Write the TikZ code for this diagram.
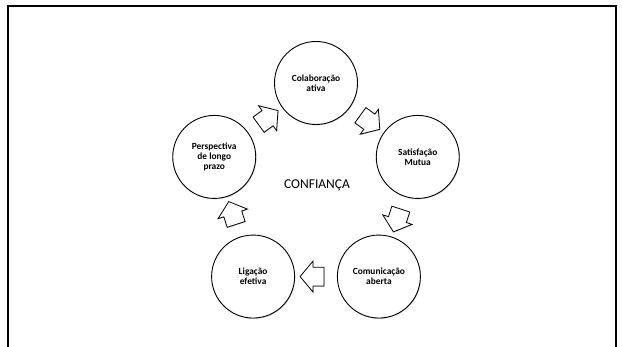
\documentclass[tikz,border=0pt]{standalone}
\usepackage{fontspec}
\setmainfont{Carlito}
\usepackage{tikz}
\usetikzlibrary{shapes.arrows,positioning,calc,shadows}

\begin{document}
\begin{tikzpicture}[
    stage/.style={circle, draw, line width=0.9pt, fill=white, minimum size=83pt, inner sep=0pt, align=center,
        font=\bfseries\fontsize{9.4}{10.2}\selectfont,
        drop shadow={shadow xshift=0.7pt, shadow yshift=-0.9pt, opacity=0.35}},
    flow/.style={single arrow, draw, line width=0.8pt, fill=white, inner xsep=0pt, inner ysep=9pt,
        text height=0pt, text depth=0pt, minimum height=24pt,
        single arrow head extend=6pt, single arrow tip angle=100,
        drop shadow={shadow xshift=0.6pt, shadow yshift=-0.8pt, opacity=0.35}}]
    \useasboundingbox (0,0) rectangle (622pt,347pt);
    % Frame
    \draw [line width=2pt] (8.3pt,0) -- (8.3pt,341pt) -- (615.5pt,341pt) -- (615.5pt,0);
    \coordinate (mid) at (316pt,157pt);

    % Stages
    \node (col) [stage] at ($(mid)+(90:107pt)$) {Colaboração\\ativa};
    \node (sat) [stage] at ($(mid)+(18:107pt)$) {Satisfação\\Mutua};
    \node (com) [stage] at ($(mid)+(-54:107pt)$) {Comunicação\\aberta};
    \node (lig) [stage] at ($(mid)+(-126:107pt)$) {Ligação\\efetiva};
    \node (per) [stage] at ($(mid)+(162:107pt)$) {Perspectiva\\de longo\\prazo};

    \node (conf) [font=\fontsize{13.5}{16}\selectfont] at ($(mid)+(1pt,5pt)$) {CONFIANÇA};

    % Arrows
    \node (a1) [flow, rotate=-36] at ($(col)!0.5!(sat)$) {};
    \node (a2) [flow, rotate=-108] at ($(sat)!0.5!(com)$) {};
    \node (a3) [flow, rotate=180] at ($(com)!0.5!(lig)$) {};
    \node (a4) [flow, rotate=108] at ($(lig)!0.5!(per)$) {};
    \node (a5) [flow, rotate=36] at ($(per)!0.5!(col)$) {};
\end{tikzpicture}
\end{document}
